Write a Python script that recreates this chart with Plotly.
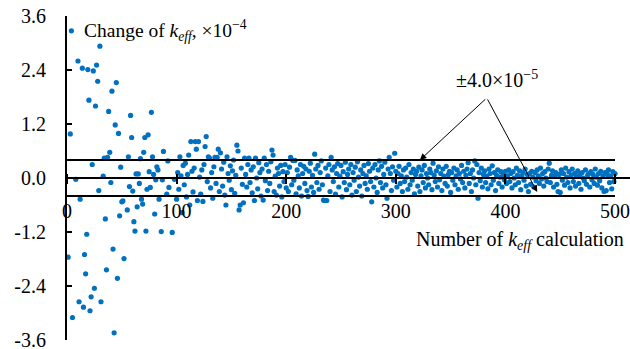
import plotly.graph_objects as go

# ---- data ----
early_x = [1, 3, 4, 5, 8, 10, 11, 12, 14, 15, 16, 17, 18, 19, 20, 21, 22, 23, 24, 25,
           26, 27, 28, 29, 30, 31, 33, 34, 35, 36, 37, 38, 39, 40, 41, 42, 43, 44, 45, 46,
           47, 48, 49, 50, 51, 52, 55, 56, 57, 58, 59, 60, 61, 62, 63, 64, 65, 66, 67, 68,
           69, 70, 71, 72, 73, 74, 75, 76, 77, 78, 79, 80, 81, 82, 83, 84, 86, 87, 88, 91,
           92, 93, 96, 98, 100]
early_y = [-1.76, 0.98, 3.27, -3.10, -0.03, 2.60, -2.75, -0.47, 2.44, -2.87, -1.70, -2.13, -1.25, 2.41, 1.73, -2.95, -2.64, 0.30, 2.38, -2.45,
           1.60, 2.51, 2.15, -0.28, 2.93, -2.75, 0.04, 0.44, -0.91, -2.04, 0.46, 1.48, 0.57, -0.10, 1.93, -1.58, -3.44, 1.18, 2.12, -2.23,
           0.99, -0.84, 0.24, -0.53, -0.51, -1.79, -0.71, 0.47, -0.19, 1.39, 0.90, -0.29, -0.97, -1.18, 0.09, -0.64, 0.09, -0.12, 0.43, -0.47,
           -0.58, 0.57, 0.90, -1.18, -0.25, 0.96, 0.14, -0.21, 1.46, 0.47, 0.08, -0.80, -0.04, 0.25, 0.18, -0.47, -1.19, -0.04, 0.59, -0.36,
           0.38, -0.21, -1.21, -0.03, -0.47]

late_y = [
    0.12, -0.25, 0.47, 0.05, -0.77, 0.28, -0.15, 0.33, -0.42, 0.08, 0.51, -0.60, 0.81, 0.15, -0.31, 0.22, 0.81, 0.64, -0.50, 0.81,
    0.02, -0.36, 0.18, -0.52, 0.30, 0.70, 0.92, -0.08, 0.47, 0.44, -0.22, 0.12, -0.45, 0.25, 0.46, -0.12, 0.46, 0.64, -0.30, 0.56,
    0.20, -0.18, 0.35, -0.38, -0.60, 0.47, 0.10, -0.05, 0.27, -0.26, 0.16, 0.40, -0.34, 0.06, 0.73, 0.60, -0.71, -0.60, 0.22, -0.14,
    -0.55, 0.44, 0.08, -0.20, 0.30, 0.44, -0.10, 0.18, -0.33, 0.25, -0.50, 0.44, 0.00, -0.24, 0.34, 0.12, -0.40, 0.20, -0.49, 0.44,
    -0.06, 0.30, -0.28, 0.15, -0.12, 0.36, 0.62, 0.51, -0.30, 0.04, -0.38, 0.22, 0.10, -0.18, 0.28, -0.42, 0.14, -0.08, 0.30, -0.22,
    0.12, -0.30, 0.24, 0.46, -0.15, 0.39, -0.05, 0.39, -0.35, 0.18, 0.05, -0.22, 0.30, -0.40, 0.10, 0.26, -0.12, 0.20, -0.28, -0.41,
    0.15, 0.33, -0.20, 0.06, -0.32, 0.53, 0.20, -0.10, 0.28, -0.25, 0.12, 0.38, -0.15, -0.49, -0.50, 0.22, -0.50, 0.05, 0.30, -0.30,
    0.46, 0.18, -0.08, 0.25, -0.36, 0.10, 0.32, -0.20, 0.04, 0.28, -0.42, 0.14, -0.10, 0.35, -0.26, 0.08, 0.20, -0.15, 0.30, -0.38,
    0.12, -0.05, 0.24, -0.30, 0.36, 0.02, -0.18, 0.18, -0.40, 0.10, 0.28, -0.12, 0.05, -0.25, 0.32, 0.15, -0.08, -0.53, 0.22, -0.20,
    0.30, 0.00, -0.32, 0.18, 0.38, -0.10, 0.26, -0.22, 0.08, 0.35, -0.15, -0.45, 0.20, 0.46, 0.10, -0.28, 0.25, -0.05, 0.55, 0.15,
    -0.20, 0.10, 0.26, -0.12, 0.05, -0.30, 0.18, -0.08, 0.22, 0.02, -0.25, 0.30, -0.15, 0.12, -0.05, 0.20, -0.35, 0.08, 0.15, -0.18,
    0.24, -0.30, 0.05, 0.18, -0.10, 0.28, -0.22, 0.10, 0.00, -0.15, 0.20, 0.12, -0.26, 0.33, 0.06, -0.08, 0.16, -0.20, 0.25, -0.04,
    0.10, -0.28, 0.20, 0.04, -0.12, 0.26, -0.18, 0.08, 0.15, -0.32, 0.12, -0.05, 0.22, -0.15, 0.05, 0.18, -0.25, 0.10, -0.02, 0.28,
    -0.10, 0.15, -0.22, 0.06, 0.20, 0.34, -0.12, 0.10, -0.30, 0.18, 0.00, 0.38, -0.15, 0.30, -0.45, 0.12, -0.06, 0.22, -0.20, 0.08,
    0.16, -0.10, 0.04, -0.24, 0.20, 0.10, -0.15, 0.27, -0.05, 0.12, -0.28, 0.06, 0.18, -0.12, 0.02, 0.14, -0.20, 0.08, -0.04, 0.15,
    -0.12, 0.05, 0.18, -0.08, 0.10, -0.22, 0.14, 0.00, -0.15, 0.22, 0.06, -0.10, 0.16, -0.26, 0.04, 0.12, -0.05, 0.20, -0.18, 0.08,
    -0.30, 0.10, -0.14, 0.15, 0.02, -0.20, 0.12, -0.06, 0.18, 0.05, -0.12, 0.22, -0.02, 0.10, -0.18, 0.14, 0.00, -0.08, 0.20, 0.33,
    -0.10, 0.06, 0.16, -0.20, 0.04, 0.12, -0.14, -0.30, 0.08, -0.32, 0.18, -0.05, 0.10, -0.16, 0.22, 0.02, -0.10, 0.14, -0.22, 0.06,
    0.20, -0.08, 0.10, -0.18, 0.04, 0.16, -0.12, 0.08, -0.25, 0.12, 0.00, -0.06, 0.18, -0.14, 0.06, 0.10, -0.20, 0.14, -0.04, 0.08,
    -0.12, 0.20, 0.02, -0.16, 0.10, -0.06, 0.15, -0.22, 0.05, -0.30, 0.12, -0.28, 0.08, 0.18, -0.10, 0.04, -0.24, 0.14, -0.08, 0.10,
]
late_x = list(range(101, 101 + len(late_y)))

calc_no = early_x + late_x
change = early_y + late_y

band = [0.4, -0.4]
x_ticks = [0, 100, 200, 300, 400, 500]
y_ticks = [-3.6, -2.4, -1.2, 0.0, 1.2, 2.4, 3.6]
y_ticktext = ["-3.6", "-2.4", "-1.2", "0.0", "1.2", "2.4", "3.6"]

FONT = "Liberation Serif"
BLUE = "#0070C0"

fig = go.Figure()
fig.add_trace(go.Scatter(x=calc_no, y=change, mode="markers",
                         marker=dict(color=BLUE, size=5.2), showlegend=False,
                         cliponaxis=False))

shapes = []
for b in band:
    shapes.append(dict(type="line", xref="x", yref="y", x0=x_ticks[0], x1=x_ticks[-1],
                       y0=b, y1=b, line=dict(color="black", width=2)))
shapes.append(dict(type="line", xref="paper", yref="y", x0=0, x1=1.03, y0=0, y1=0,
                   line=dict(color="black", width=2)))

annotations = [
    dict(text="Change of <i>k</i><sub><i>eff</i></sub>, ×10<sup>−4</sup>", xref="paper", yref="y",
         x=0.027, y=3.27, xanchor="left", yanchor="middle", showarrow=False,
         font=dict(family=FONT, size=19.5, color="black")),
    dict(text="Number of <i>k</i><sub><i>eff</i></sub> calculation", xref="paper", yref="y",
         x=1.02, y=-1.38, xanchor="right", yanchor="middle", showarrow=False,
         font=dict(family=FONT, size=20, color="black")),
    dict(text="±4.0×10<sup>−5</sup>", xref="x", yref="y", x=392, y=2.2,
         xanchor="center", yanchor="middle", showarrow=False,
         font=dict(family=FONT, size=20, color="black")),
    dict(text="", xref="x", yref="y", x=322, y=band[0], axref="x", ayref="y", ax=383, ay=1.78,
         showarrow=True, arrowhead=2, arrowsize=1.3, arrowwidth=1, arrowcolor="black"),
    dict(text="", xref="x", yref="y", x=429, y=-0.31, axref="x", ayref="y", ax=383, ay=1.78,
         showarrow=True, arrowhead=2, arrowsize=1.3, arrowwidth=1, arrowcolor="black"),
]

fig.update_layout(
    width=630, height=349, autosize=False,
    margin=dict(l=67, r=15, t=16, b=9, autoexpand=False),
    paper_bgcolor="white", plot_bgcolor="white",
    font=dict(family=FONT, size=20, color="black"),
    shapes=shapes, annotations=annotations,
    xaxis=dict(range=[0, 500], tickvals=x_ticks, ticktext=[str(v) for v in x_ticks],
               anchor="free", position=0.5 + 5 / 324, showline=False, showgrid=False,
               zeroline=False, ticks="outside", ticklen=10, tickwidth=1.5, tickcolor="black",
               ticklabelstandoff=10, ticklabeloverflow="allow", automargin=False,
               tickfont=dict(family=FONT, size=20, color="black")),
    yaxis=dict(range=[-3.6, 3.6], tickvals=y_ticks, ticktext=y_ticktext,
               showline=True, linecolor="black", linewidth=2, showgrid=False, zeroline=False,
               ticks="inside", ticklen=5, tickwidth=2, tickcolor="black",
               ticklabelstandoff=15, ticklabeloverflow="allow", automargin=False,
               tickfont=dict(family=FONT, size=20, color="black")),
)

fig.write_html("out.html", config={"displayModeBar": False},
               post_script="document.body.style.margin='0';")
